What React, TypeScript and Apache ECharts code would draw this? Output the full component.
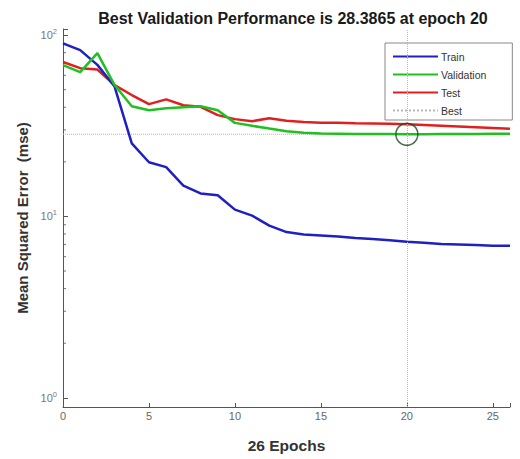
import React, { useEffect, useRef } from "react";
import * as echarts from "echarts";

const epochs = Array.from({ length: 27 }, (_, i) => i);
const trainValues = [90, 82.6, 68.5, 52, 25.3, 19.9, 18.7, 14.8, 13.4, 13.1, 10.9, 10.1, 8.9, 8.2, 7.95, 7.85, 7.75, 7.6, 7.5, 7.4, 7.25, 7.15, 7.05, 7.0, 6.95, 6.9, 6.9];
const validationValues = [68.3, 62.5, 79.5, 53, 40.5, 38.5, 39.5, 40, 40.5, 38.5, 32.8, 31.6, 30.5, 29.5, 28.9, 28.7, 28.6, 28.5, 28.5, 28.45, 28.3865, 28.4, 28.45, 28.5, 28.5, 28.55, 28.6];
const testValues = [71, 65.7, 64.5, 53, 46.7, 41.6, 44.2, 41, 40.2, 36.2, 34.4, 33.5, 34.8, 33.7, 33.2, 32.9, 32.8, 32.6, 32.5, 32.4, 32.2, 31.9, 31.6, 31.3, 31.0, 30.7, 30.4];
const bestEpoch = 20;
const bestValue = 28.3865;
const minorTickValues = [2, 3, 4, 5, 6, 7, 8, 9, 20, 30, 40, 50, 60, 70, 80, 90];
const xTickStep = 5;

const FONT = "Liberation Sans, Arial, sans-serif";

export default function App() {
  const ref = useRef<HTMLDivElement>(null);
  useEffect(() => {
    document.body.style.margin = "0";
    const chart = echarts.init(ref.current!, null, { renderer: "svg" });
    const toPairs = (vals: number[]) => vals.map((v, i) => [epochs[i], v]);
    chart.setOption({
      animation: false,
      backgroundColor: "#fff",
      title: {
        text: `Best Validation Performance is ${bestValue} at epoch ${bestEpoch}`,
        left: 288,
        top: 5,
        textAlign: "center",
        textStyle: { fontFamily: FONT, fontSize: 16, fontWeight: "bold", color: "#1a1a1a" },
      },
      grid: { left: 63, right: 10, top: 29, bottom: 52, containLabel: false },
      legend: {
        orient: "vertical",
        left: 385,
        top: 43,
        data: ["Train", "Validation", "Test", "Best"],
        itemWidth: 45,
        itemHeight: 12,
        itemGap: 7,
        padding: [8, 26, 4, 7],
        borderColor: "#888",
        borderWidth: 1,
        backgroundColor: "#fff",
        itemStyle: { opacity: 0 },
        textStyle: { fontFamily: FONT, fontSize: 10.5, color: "#333", padding: [0, 0, 0, -2] },
      },
      xAxis: {
        type: "value",
        min: 0,
        max: 26,
        interval: xTickStep,
        name: `${epochs.length - 1} Epochs`,
        nameLocation: "middle",
        nameGap: 30,
        nameTextStyle: { fontFamily: FONT, fontSize: 15.5, fontWeight: "bold", color: "#333" },
        axisLine: { lineStyle: { color: "#555", width: 1 } },
        axisTick: { inside: true, length: 4, lineStyle: { color: "#555" } },
        axisLabel: {
          fontFamily: FONT,
          fontSize: 11,
          color: "#666",
          margin: 3,
          formatter: (v: number) => (v % xTickStep === 0 ? String(v) : ""),
        },
        splitLine: { show: false },
      },
      yAxis: {
        type: "log",
        logBase: 10,
        min: 0.89,
        max: 108,
        name: "Mean Squared Error  (mse)",
        nameLocation: "middle",
        nameGap: 31,
        nameTextStyle: { fontFamily: FONT, fontSize: 15, fontWeight: "bold", color: "#333" },
        axisLine: { show: true, lineStyle: { color: "#555", width: 1 } },
        axisTick: { inside: true, length: 5, lineStyle: { color: "#555" } },
        axisLabel: {
          fontFamily: FONT,
          color: "#777",
          margin: 6,
          formatter: (v: number) => {
            const e = Math.log10(v);
            if (Math.abs(e - Math.round(e)) > 1e-6) return "";
            return `{b|10}{s|${Math.round(e)}}`;
          },
          rich: {
            b: { fontSize: 11, color: "#777", fontFamily: FONT },
            s: { fontSize: 7.5, color: "#777", fontFamily: FONT, padding: [0, 0, 7, 0] },
          },
        },
        splitLine: { show: false },
      },
      series: [
        {
          name: "Best",
          type: "line",
          data: [[0, bestValue], [26, bestValue]],
          symbol: "none",
          silent: true,
          z: 1,
          lineStyle: { color: "#b8b8b8", width: 1, type: "dotted" },
          itemStyle: { color: "#b8b8b8" },
          markLine: {
            symbol: "none",
            silent: true,
            label: { show: false },
            lineStyle: { color: "#b8b8b8", width: 1, type: "dotted" },
            data: [{ xAxis: bestEpoch }],
          },
        },
        {
          name: "minor",
          type: "scatter",
          data: minorTickValues.map((v) => [0, v]),
          symbol: "rect",
          symbolSize: [3, 1],
          symbolOffset: [1.5, 0],
          silent: true,
          itemStyle: { color: "#555" },
          z: 1,
        },
        {
          name: "Train",
          type: "line",
          data: toPairs(trainValues),
          symbol: "none",
          lineStyle: { color: "#2020c0", width: 2.5 },
          itemStyle: { color: "#2020c0" },
          z: 3,
        },
        {
          name: "Validation",
          type: "line",
          data: toPairs(validationValues),
          symbol: "none",
          lineStyle: { color: "#20c020", width: 2.5 },
          itemStyle: { color: "#20c020" },
          z: 3,
        },
        {
          name: "Test",
          type: "line",
          data: toPairs(testValues),
          symbol: "none",
          lineStyle: { color: "#e02020", width: 2.5 },
          itemStyle: { color: "#e02020" },
          z: 2,
        },
        {
          name: "BestPoint",
          type: "scatter",
          data: [[bestEpoch, bestValue]],
          symbol: "circle",
          symbolSize: 22,
          silent: true,
          itemStyle: { color: "rgba(0,0,0,0)", borderColor: "#1e4a1e", borderWidth: 1.5 },
          z: 5,
        },
      ],
    });
    return () => chart.dispose();
  }, []);
  return <div ref={ref} style={{ width: 520, height: 459 }} />;
}
